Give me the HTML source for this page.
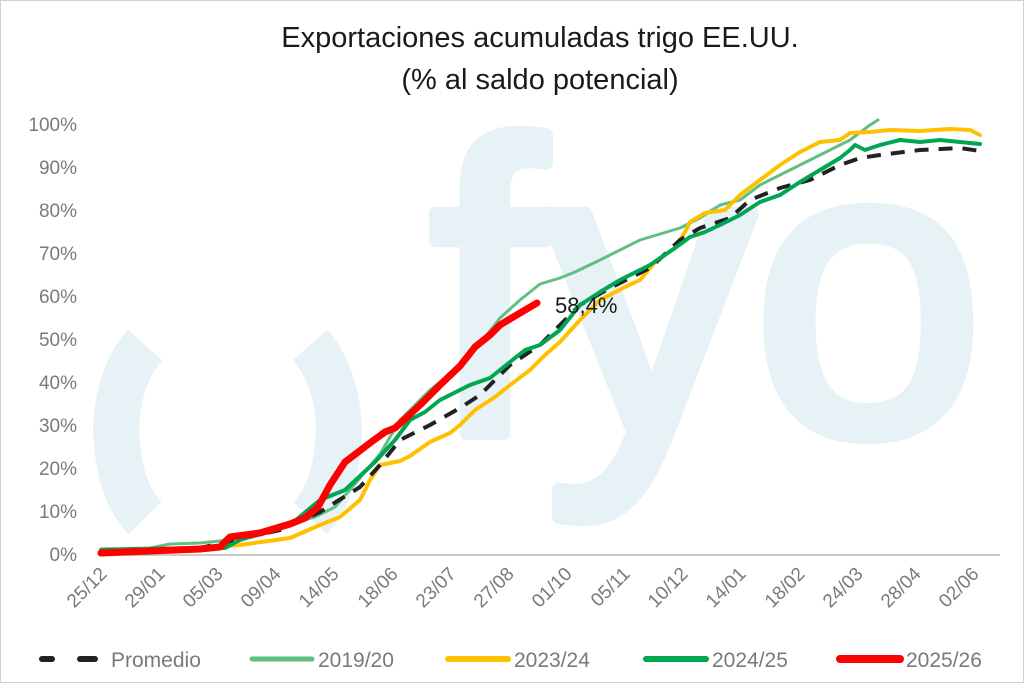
<!DOCTYPE html>
<html><head><meta charset="utf-8"><style>
html,body{margin:0;padding:0;background:#fff}
svg{display:block;font-family:"Liberation Sans","DejaVu Sans",sans-serif}
</style></head><body>
<svg width="1024" height="683" viewBox="0 0 1024 683" xmlns="http://www.w3.org/2000/svg">
<rect x="0.5" y="0.5" width="1023" height="682" fill="#fff" stroke="#d0d0d0"/>
<!-- watermark -->
<g fill="none" stroke="#e6f2f6" stroke-width="46">
<path d="M145,345 Q118,375 116,430 Q118,490 145,518"/>
<path d="M310,345 Q337,375 339,430 Q337,490 310,518"/>
</g>
<text x="430" y="433" font-size="415" fill="#e6f2f6" stroke="#e6f2f6" stroke-width="14" stroke-linejoin="round">fyo</text>
<!-- title -->
<text x="540" y="47" font-size="29" text-anchor="middle" fill="#1a1a1a">Exportaciones acumuladas trigo EE.UU.</text>
<text x="540" y="89" font-size="29" text-anchor="middle" fill="#1a1a1a">(% al saldo potencial)</text>
<!-- y labels -->
<g font-size="19" fill="#7a7a7a" text-anchor="end">
<text x="77" y="561">0%</text><text x="77" y="518">10%</text><text x="77" y="475">20%</text>
<text x="77" y="432">30%</text><text x="77" y="389">40%</text><text x="77" y="346">50%</text>
<text x="77" y="303">60%</text><text x="77" y="260">70%</text><text x="77" y="217">80%</text>
<text x="77" y="174">90%</text><text x="77" y="131">100%</text>
</g>
<line x1="101" y1="555" x2="1000" y2="555" stroke="#bbb" stroke-width="1.5"/>
<g font-size="19" fill="#7a7a7a" text-anchor="end">
<text transform="translate(108,575) rotate(-45)">25/12</text>
<text transform="translate(166,575) rotate(-45)">29/01</text>
<text transform="translate(224,575) rotate(-45)">05/03</text>
<text transform="translate(282,575) rotate(-45)">09/04</text>
<text transform="translate(340,575) rotate(-45)">14/05</text>
<text transform="translate(399,575) rotate(-45)">18/06</text>
<text transform="translate(457,575) rotate(-45)">23/07</text>
<text transform="translate(515,575) rotate(-45)">27/08</text>
<text transform="translate(573,575) rotate(-45)">01/10</text>
<text transform="translate(631,575) rotate(-45)">05/11</text>
<text transform="translate(689,575) rotate(-45)">10/12</text>
<text transform="translate(747,575) rotate(-45)">14/01</text>
<text transform="translate(806,575) rotate(-45)">18/02</text>
<text transform="translate(864,575) rotate(-45)">24/03</text>
<text transform="translate(922,575) rotate(-45)">28/04</text>
<text transform="translate(980,575) rotate(-45)">02/06</text>
</g>
<g fill="none" stroke-linejoin="round" stroke-linecap="round">
<polyline stroke="#5fbf84" stroke-width="3" points="101,549 150,548 170,544 200,543 220,541 240,537 270,532 290,524 315,517 335,507 360,478 380,454 400,420 430,390 450,374 475,350 500,318 520,300 540,284 560,278 575,272 600,260 620,250 640,240 660,234 680,228 700,218 720,205 740,200 760,185 790,170 810,160 830,150 850,140 870,125 878,120"/>
<polyline stroke="#ffc000" stroke-width="4" points="101,551 150,550 200,548 240,545 290,538 320,525 340,517 360,500 370,480 380,465 400,461 410,456 430,442 450,433 460,425 475,410 495,397 510,385 530,370 545,355 560,342 580,320 600,300 625,287 640,280 655,262 675,248 685,232 690,222 705,213 725,210 740,195 760,180 780,165 800,152 820,142 840,140 850,133 870,132 890,130 920,131 950,129 970,130 980,135"/>
<polyline stroke="#222" stroke-width="4" stroke-dasharray="14,10" stroke-linecap="butt" points="101,550 200,548 280,530 320,512 360,487 380,465 400,440 430,425 460,408 480,395 510,365 540,345 560,325 580,305 610,288 650,268 680,240 700,228 730,218 750,200 780,188 810,180 840,165 860,158 880,155 920,150 960,148 980,151"/>
<polyline stroke="#00a651" stroke-width="4" points="101,550 150,549 200,548 225,548 240,540 260,534 290,525 320,500 345,490 360,476 375,462 395,440 410,420 425,412 440,400 470,385 490,378 500,370 510,362 525,350 540,345 560,330 580,305 600,292 620,280 650,265 675,248 690,237 705,232 720,225 740,215 760,202 780,195 800,182 820,170 840,158 850,150 855,145 865,150 880,145 900,140 920,142 940,140 960,142 980,144"/>
<polyline stroke="#ff0000" stroke-width="7" points="101,553 150,551 200,549 220,547 230,537 260,533 290,524 305,518 318,507 330,485 345,462 370,443 385,432 395,428 405,419 420,405 440,385 460,366 475,347 490,335 500,325 520,313 537,303"/>
</g>
<text x="555" y="313" font-size="22" fill="#1a1a1a">58,4%</text>
<!-- legend -->
<g stroke-linecap="round" fill="none">
<line x1="42" y1="659" x2="52" y2="659" stroke="#222" stroke-width="6"/>
<line x1="80" y1="659" x2="95" y2="659" stroke="#222" stroke-width="6"/>
<line x1="252" y1="659" x2="312" y2="659" stroke="#5fbf84" stroke-width="5"/>
<line x1="448" y1="659" x2="508" y2="659" stroke="#ffc000" stroke-width="6"/>
<line x1="646" y1="659" x2="706" y2="659" stroke="#00a651" stroke-width="6"/>
<line x1="840" y1="659" x2="900" y2="659" stroke="#ff0000" stroke-width="8"/>
</g>
<g font-size="21" fill="#7a7a7a">
<text x="111" y="667">Promedio</text>
<text x="318" y="667">2019/20</text>
<text x="514" y="667">2023/24</text>
<text x="712" y="667">2024/25</text>
<text x="906" y="667">2025/26</text>
</g>
</svg>
</body></html>
